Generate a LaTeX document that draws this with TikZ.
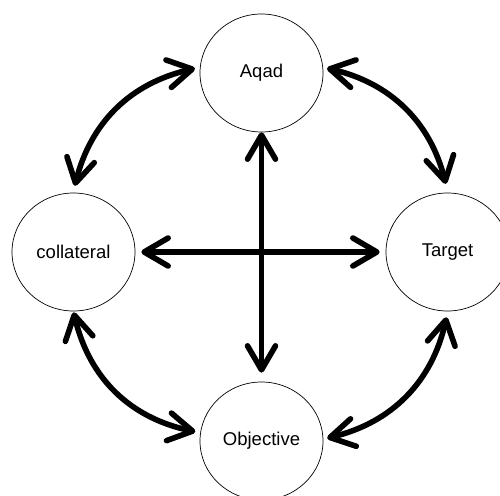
\documentclass[tikz,border=0pt]{standalone}
\usepackage{fontspec}
\setmainfont{Liberation Sans}
\usetikzlibrary{arrows.meta,bending,shapes.geometric}
\begin{document}
\begin{tikzpicture}[x=1pt,y=-1pt,
  circ/.style={draw, ellipse, minimum width=123pt, minimum height=118pt, inner sep=0pt, line width=0.7pt, font=\fontsize{18.5}{22}\selectfont},
  tipstyle/.tip={Straight Barb[length=24pt, width=28pt, round]},
  conn/.style={line width=5.6pt, tipstyle-tipstyle}]
\clip (0,0) rectangle (500,495);
\useasboundingbox (0,0) rectangle (500,495);
\node[circ] (aqad) at (261.5,73) {Aqad};
\node[circ] (coll) at (73.5,252) {collateral};
\node[circ] (targ) at (447.5,252) {Target};
\node[circ] (obj) at (261.5,441) {Objective};
% cross
\draw[conn, shorten <=0pt, shorten >=9pt] (aqad.south) -- (obj.north);
\draw[conn, shorten <=6pt, shorten >=6pt] (coll.east) -- (targ.west);
% curved
\draw[conn, shorten <=5pt, shorten >=7pt] (aqad.175) to[bend right=35] (coll.north);
\draw[conn, shorten <=4pt, shorten >=9pt] (aqad.5) to[bend left=35] (targ.north);
\draw[conn, shorten <=6pt, shorten >=4pt] (targ.south) to[bend left=35] (obj.2);
\draw[conn, shorten <=1pt, shorten >=5pt] (coll.south) to[bend right=35] (obj.172);
\end{tikzpicture}
\end{document}
